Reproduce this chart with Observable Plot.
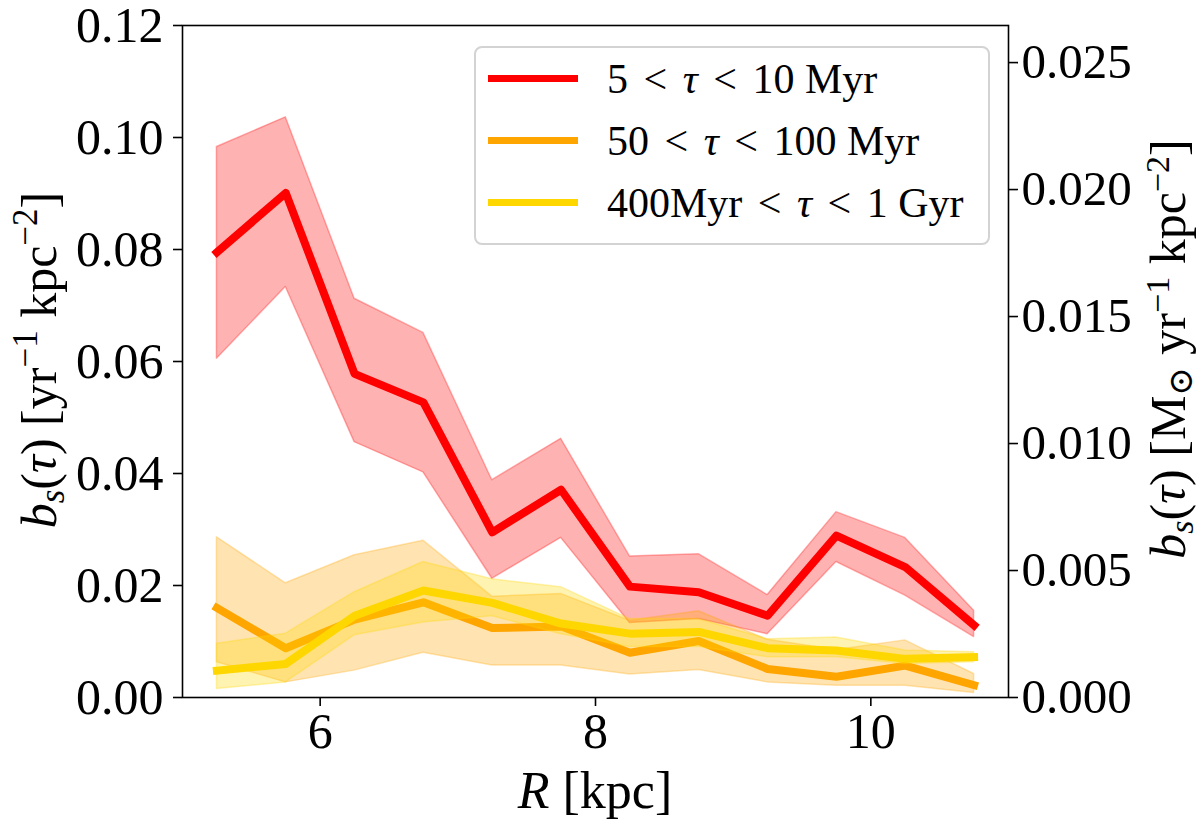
<!DOCTYPE html>
<html>
<head>
<meta charset="utf-8">
<script src="https://cdn.jsdelivr.net/npm/d3@7"></script>
<script src="https://cdn.jsdelivr.net/npm/@observablehq/plot@0.6"></script>
<style>
  html, body { margin: 0; padding: 0; background: white; }
  #wrap { position: relative; width: 1200px; height: 827px; overflow: hidden; }
  #legend {
    position: absolute; left: 474px; top: 46px; width: 512px; height: 195px;
    border: 2px solid #d3d3d3; border-radius: 8px; background: rgba(255,255,255,0.85);
    font-family: "Liberation Serif", "DejaVu Serif", serif; font-size: 42px; color: #000;
  }
  .sw { position: absolute; left: 12px; width: 90px; height: 7px; }
  .lt { position: absolute; left: 131px; line-height: 50px; white-space: nowrap; }
  .rel { padding: 0 5px; }
</style>
</head>
<body>
<div id="wrap"></div>
<script>
// ---------- data ----------
const R = [5.25, 5.75, 6.25, 6.75, 7.25, 7.75, 8.25, 8.75, 9.25, 9.75, 10.25, 10.75];

const redMid = [0.0795, 0.0901, 0.0578, 0.0527, 0.0295, 0.0371, 0.0198, 0.0188, 0.0146, 0.0289, 0.0233, 0.0129];
const redHi  = [0.0983, 0.1036, 0.0712, 0.0651, 0.0388, 0.0462, 0.0252, 0.0256, 0.0183, 0.0331, 0.0285, 0.0155];
const redLo  = [0.0605, 0.0733, 0.0456, 0.0402, 0.0212, 0.0285, 0.0133, 0.0140, 0.0113, 0.0242, 0.0182, 0.0108];

const orangeMid = [0.0160, 0.0088, 0.0139, 0.0170, 0.0124, 0.0127, 0.0080, 0.0101, 0.0051, 0.0037, 0.0057, 0.0022];
const orangeHi  = [0.0286, 0.0204, 0.0254, 0.0280, 0.0180, 0.0185, 0.0137, 0.0154, 0.0103, 0.0085, 0.0102, 0.0042];
const orangeLo  = [0.0063, 0.0027, 0.0048, 0.0080, 0.0057, 0.0057, 0.0041, 0.0049, 0.0027, 0.0021, 0.0021, 0.0008];

const yellowMid = [0.0048, 0.0060, 0.0146, 0.0191, 0.0169, 0.0132, 0.0114, 0.0117, 0.0088, 0.0084, 0.0069, 0.0072];
const yellowHi  = [0.0096, 0.0114, 0.0188, 0.0242, 0.0211, 0.0197, 0.0140, 0.0140, 0.0104, 0.0107, 0.0084, 0.0081];
const yellowLo  = [0.0015, 0.0027, 0.0111, 0.0134, 0.0145, 0.0113, 0.0090, 0.0090, 0.0072, 0.0072, 0.0060, 0.0063];

const seriesNames  = ["5 < τ < 10 Myr", "50 < τ < 100 Myr", "400Myr < τ < 1 Gyr"];
const seriesColors = ["#ff0000", "#ffa500", "#ffd700"];

const xTicks      = [6, 8, 10];
const yTicksLeft  = [0, 0.02, 0.04, 0.06, 0.08, 0.10, 0.12];
const yTicksRight = [0, 0.005, 0.010, 0.015, 0.020, 0.025];
const rightFactor = 0.2205; // right-axis units per left-axis unit

// ---------- build tables ----------
const mk = (mid, lo, hi, k) => R.map((r, i) => ({R: r, mid: mid[i], lo: lo[i], hi: hi[i], s: seriesNames[k]}));
const series = [mk(redMid, redLo, redHi, 0), mk(orangeMid, orangeLo, orangeHi, 1), mk(yellowMid, yellowLo, yellowHi, 2)];

const FONT = "Liberation Serif, DejaVu Serif, serif";
const marks = [];
series.forEach((d, k) => {
  marks.push(Plot.areaY(d, {x: "R", y1: "lo", y2: "hi", fill: seriesColors[k], fillOpacity: 0.3,
    stroke: seriesColors[k], strokeOpacity: 0.3, strokeWidth: 1.5}));
  marks.push(Plot.line(d, {x: "R", y: "mid", stroke: seriesColors[k], strokeWidth: 8,
    strokeLinejoin: "round", strokeLinecap: "square"}));
});

const plot = Plot.plot({
  width: 1200, height: 827,
  marginLeft: 182, marginRight: 192, marginTop: 25, marginBottom: 130,
  style: {background: "white", fontFamily: FONT, color: "black", overflow: "visible"},
  x: {domain: [5.0, 11.0]},
  y: {domain: [0, 0.12]},
  marks: [
    ...marks,
    Plot.frame({stroke: "black", strokeWidth: 1.6}),
    Plot.axisX(xTicks, {anchor: "bottom", tickSize: 9, tickPadding: 6, fontSize: 50, label: null, strokeWidth: 1.6, tickFormat: d => String(d)}),
    Plot.axisY(yTicksLeft, {anchor: "left", tickSize: 9, tickPadding: 10, fontSize: 50, label: null, strokeWidth: 1.6, tickFormat: d => d.toFixed(2)}),
    Plot.axisY(yTicksRight.map(v => v / rightFactor), {anchor: "right", tickSize: 9, tickPadding: 4, fontSize: 49, label: null, strokeWidth: 1.6,
      tickFormat: d => (d * rightFactor).toFixed(3)})
  ]
});

const wrap = document.getElementById("wrap");
wrap.appendChild(plot);

// ---------- axis titles ----------
const svg = d3.select(plot);
function addLabel(x, y, rot, parts, size) {
  const t = svg.append("text")
    .attr("transform", `translate(${x},${y}) rotate(${rot})`)
    .attr("text-anchor", "middle")
    .attr("font-family", FONT).attr("font-size", size).attr("fill", "black");
  parts.forEach(p => {
    const ts = t.append("tspan").text(p.t);
    if (p.i) ts.attr("font-style", "italic");
    if (p.sz) ts.attr("font-size", p.sz);
    if (p.dy) ts.attr("dy", p.dy);
  });
}
addLabel(56, 360, -90, [
  {t: "b", i: 1}, {t: "s", i: 1, sz: 35, dy: 8}, {t: "(", dy: -8}, {t: "τ", i: 1}, {t: ") [yr"},
  {t: "−1", sz: 35, dy: -19}, {t: " kpc", dy: 19}, {t: "−2", sz: 35, dy: -19}, {t: "]", dy: 19}
], 50);
addLabel(1185, 349, -90, [
  {t: "b", i: 1}, {t: "s", i: 1, sz: 34, dy: 8}, {t: "(", dy: -8}, {t: "τ", i: 1}, {t: ") [M"},
  {t: "⊙", sz: 34, dy: 7}, {t: " yr", dy: -7}, {t: "−1", sz: 34, dy: -16}, {t: " kpc", dy: 16},
  {t: "−2", sz: 34, dy: -16}, {t: "]", dy: 16}
], 50);
addLabel(595, 808, 0, [{t: "R", i: 1}, {t: " [kpc]"}], 52);

// ---------- legend ----------
const leg = d3.select(wrap).append("div").attr("id", "legend");
const LT = '<span class="rel">&lt;</span>';
const legendLabels = [
  `5 ${LT} <i>τ</i> ${LT} 10 Myr`,
  `50 ${LT} <i>τ</i> ${LT} 100 Myr`,
  `400Myr ${LT} <i>τ</i> ${LT} 1 Gyr`
];
seriesNames.forEach((name, k) => {
  const top = 6 + k * 62;
  leg.append("div").attr("class", "sw").style("top", (top + 21) + "px").style("background", seriesColors[k]);
  leg.append("div").attr("class", "lt").style("top", top + "px").html(legendLabels[k]);
});
</script>
</body>
</html>
